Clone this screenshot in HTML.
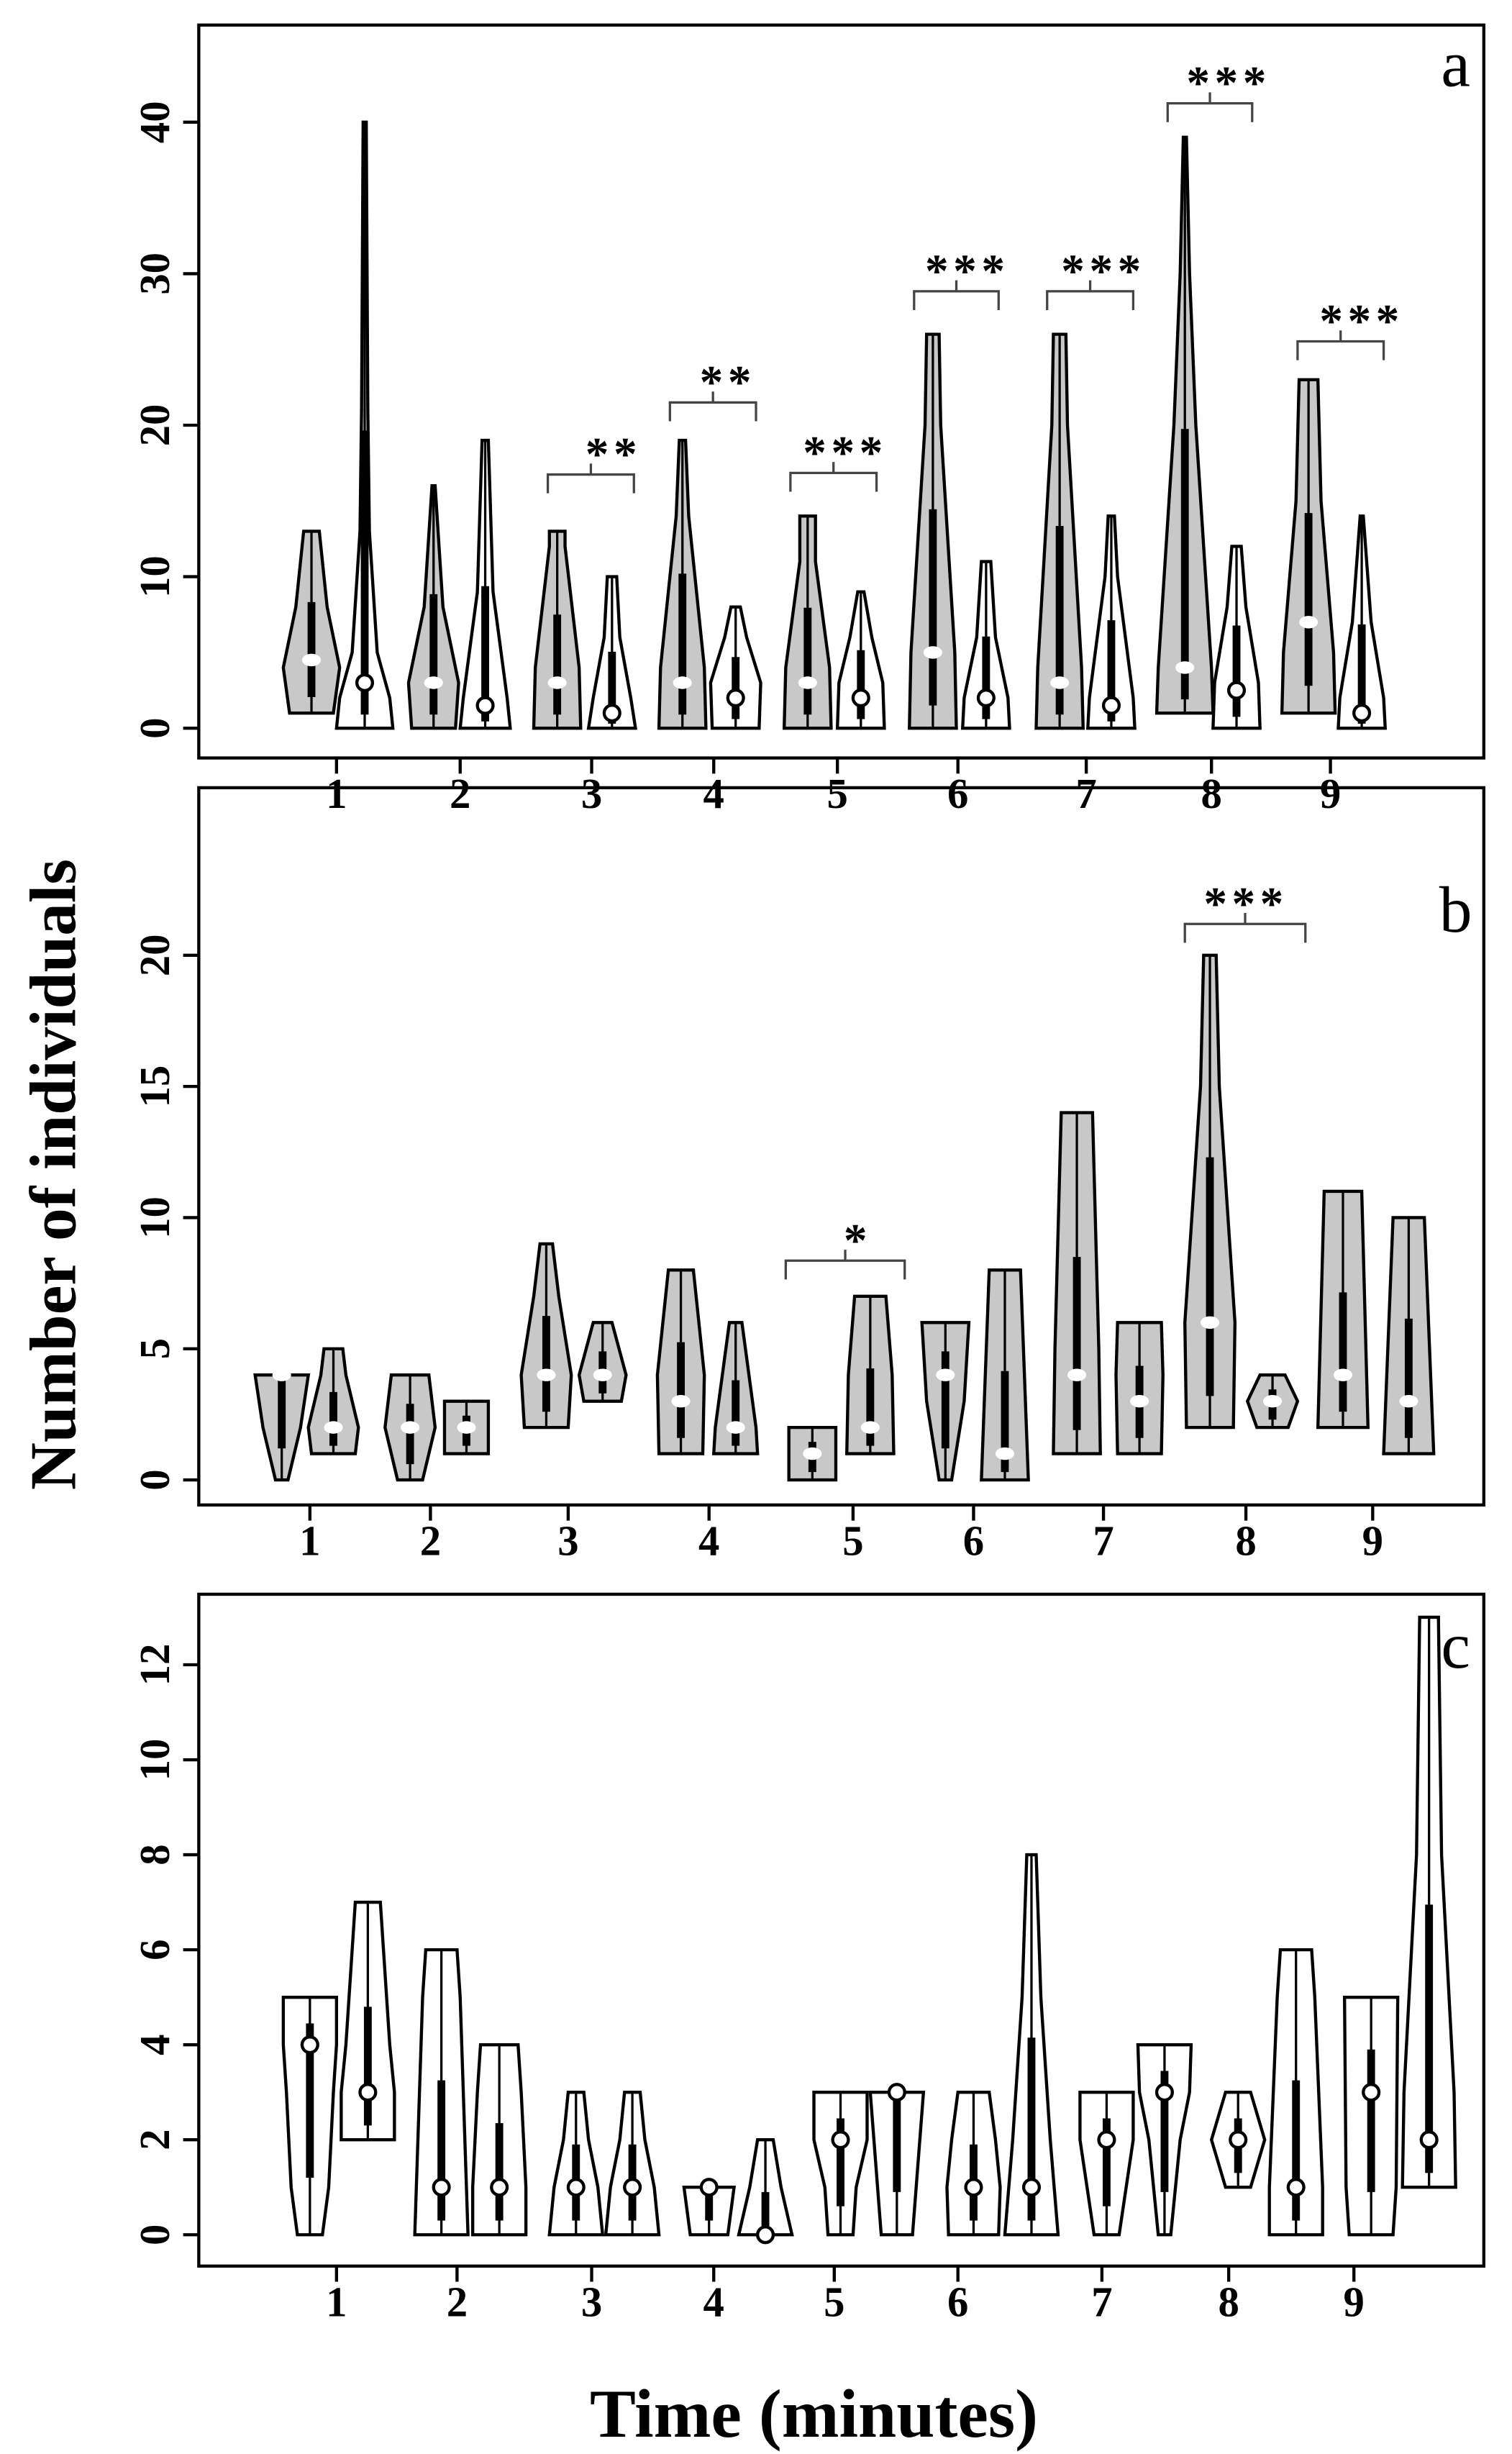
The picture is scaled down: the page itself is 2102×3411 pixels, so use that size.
<!DOCTYPE html>
<html><head><meta charset="utf-8"><style>
html,body{margin:0;padding:0;background:#fff;}
svg{display:block;}
text{font-family:"Liberation Serif",serif;font-weight:bold;fill:#000;}
</style></head><body>
<svg id="s" width="2102" height="3411" viewBox="0 0 966 1567" preserveAspectRatio="none" xmlns="http://www.w3.org/2000/svg"></svg>
<script>
const S=document.getElementById('s');let h='';
function panel(top,bot,y0,ppu,ticks,xt,letter,ly){
  h+=`<rect x="127" y="${top}" width="821" height="${bot-top}" fill="none" stroke="#000" stroke-width="2"/>`;
  ticks.forEach(v=>{const y=y0-ppu*v;h+=`<line x1="117" y1="${y}" x2="127" y2="${y}" stroke="#000" stroke-width="2"/><text transform="translate(108,${y}) rotate(-90)" text-anchor="middle" font-size="27">${v}</text>`;});
  xt.forEach((x,i)=>{h+=`<line x1="${x}" y1="${bot}" x2="${x}" y2="${bot+10}" stroke="#000" stroke-width="2"/><text x="${x}" y="${bot+32}" text-anchor="middle" font-size="27">${i+1}</text>`;});
  h+=`<text x="930" y="${ly}" text-anchor="middle" font-size="42" style="font-weight:normal">${letter}</text>`;
}
function vio(cx,prof,fill,med,y0,ppu,dotWhite){
  const Y=v=>y0-ppu*v;let r=[],l=[];
  prof.forEach(p=>{r.push(`${cx+p[1]},${Y(p[0])}`);});
  for(let i=prof.length-1;i>=0;i--)l.push(`${cx-prof[i][1]},${Y(prof[i][0])}`);
  h+=`<polygon points="${r.join(' ')} ${l.join(' ')}" fill="${fill}" stroke="#000" stroke-width="2"/>`;
  const mn=prof[0][0],mx=prof[prof.length-1][0];
  h+=`<line x1="${cx}" y1="${Y(mn)}" x2="${cx}" y2="${Y(mx)}" stroke="#000" stroke-width="1.5"/>`;
  const q3=med+(mx-med)*0.45,q1=mn+(med-mn)*0.3;
  h+=`<line x1="${cx}" y1="${Y(q1)}" x2="${cx}" y2="${Y(q3)}" stroke="#000" stroke-width="5"/>`;
  if(dotWhite)h+=`<ellipse cx="${cx}" cy="${Y(med)}" rx="6" ry="4" fill="#fff"/>`;
  else h+=`<ellipse cx="${cx}" cy="${Y(med)}" rx="5" ry="5" fill="#fff" stroke="#000" stroke-width="2"/>`;
}
function br(x1,x2,y,stars,sx){
  const m=(x1+x2)/2;
  h+=`<path d="M${x1},${y+12} L${x1},${y} L${x2},${y} L${x2},${y+12} M${m},${y} L${m},${y-7}" fill="none" stroke="#444" stroke-width="1.5"/>`;
  h+=`<text x="${sx||m}" y="${y-3}" text-anchor="middle" font-size="30" letter-spacing="3">${stars}</text>`;
}
const G='#c8c8c8',W='#fff';
// Panel a
let y0=465,p=9.675;
panel(16,484,y0,p,[0,10,20,30,40],[215,294,378,456,535,612,694,774,850],'a',55);
[[199,[[1,14],[4,18],[8,10],[13,5]],G,4.5,1],[233,[[0,18],[2,16],[5,8],[13,3],[21,2],[40,1]],W,3,0],
[277,[[0,14],[3,16],[8,6],[16,1]],G,3,1],[310,[[0,16],[2,14],[9,5],[19,2]],W,1.5,0],
[356,[[0,15],[4,14],[12,5],[13,5]],G,3,1],[391,[[0,15],[2,12],[6,5],[10,3]],W,1,0],
[436,[[0,15],[4,14],[14,4],[19,2]],G,3,1],[470,[[0,15],[3,16],[6,7],[8,3]],W,2,0],
[516,[[0,15],[4,14],[11,5],[14,5]],G,3,1],[550,[[0,15],[3,14],[6,7],[9,2]],W,2,0],
[596,[[0,15],[5,14],[20,5],[26,4]],G,5,1],[630,[[0,15],[2,14],[6,6],[11,3]],W,2,0],
[677,[[0,15],[4,14],[20,5],[26,4]],G,3,1],[710,[[0,15],[2,14],[10,4],[14,2]],W,1.5,0],
[757,[[1,18],[4,17],[20,7],[30,3],[39,1]],G,4,1],[790,[[0,15],[3,14],[8,6],[12,3]],W,2.5,0],
[836,[[1,17],[5,16],[15,8],[23,6]],G,7,1],[870,[[0,15],[2,14],[7,6],[14,1]],W,1,0]
].forEach(a=>vio(a[0],a[1],a[2],a[3],y0,p,a[4]));
br(350,405,303,'**',392);br(428,483,257,'**',465);br(505,560,302,'***',540);br(584,638,186,'***',618);
br(669,724,186,'***',705);br(746,800,66,'***',785);br(829,884,218,'***',870);
// Panel b
y0=945;p=16.75;
panel(503,961,y0,p,[0,5,10,15,20],[198,275,363,453,545,622,705,796,877],'b',595);
[[180,[[0,4],[2,12],[4,17]],4],[213,[[1,14],[2,16],[4,8],[5,6]],2],[262,[[0,8],[2,16],[4,12]],2],[298,[[1,14],[3,14]],2],
[349,[[2,14],[4,16],[7,8],[9,4]],4],[385,[[3,12],[4,15],[6,6]],4],[435,[[1,14],[4,15],[8,8]],3],[470,[[1,14],[2,13],[6,4]],2],
[519,[[0,15],[2,15]],1],[556,[[1,15],[4,14],[7,10]],2],[604,[[0,4],[3,12],[6,15]],4],[642,[[0,15],[8,10]],1],
[688,[[1,15],[5,14],[14,10]],4],[728,[[1,14],[4,15],[6,14]],3],[773,[[2,15],[6,16],[15,6],[20,4]],6],[813,[[2,10],[3,16],[4,8]],3],
[858,[[2,16],[11,12]],4],[900,[[1,16],[4,14],[10,10]],3]
].forEach(a=>vio(a[0],a[1],G,a[2],y0,p,1));
br(757,834,590,'***',796);br(502,578,805,'*',548);
// Panel c
y0=1427;p=30.33;
panel(1018,1447,y0,p,[0,2,4,6,8,10,12],[215,292,378,456,533,612,704,785,865],'c',1065);
[[198,[[0,8],[1,12],[3,15],[4,17],[5,17]],4],[235,[[2,17],[3,17],[4,14],[6,10],[7,8]],3],
[282,[[0,17],[1,16],[5,12],[6,10]],1],[319,[[0,17],[1,17],[3,14],[4,12]],1],
[368,[[0,17],[1,14],[2,8],[3,5]],1],[404,[[0,17],[1,14],[2,8],[3,5]],1],
[453,[[0,12],[1,16]],1],[489,[[0,17],[1,10],[2,5]],0],
[537,[[0,8],[1,10],[2,17],[3,17]],2],[573,[[0,10],[3,17]],3],
[622,[[0,16],[1,17],[2,14],[3,10]],1],[659,[[0,17],[2,12],[5,6],[8,3]],1],
[707,[[0,8],[2,17],[3,17]],2],[744,[[0,4],[2,10],[3,16],[4,17]],3],
[791,[[1,8],[2,17],[3,8]],2],[828,[[0,17],[1,17],[5,12],[6,10]],1],
[876,[[0,14],[1,16],[5,17]],3],[913,[[1,17],[3,16],[8,8],[13,6]],2]
].forEach(a=>vio(a[0],a[1],W,a[2],y0,p,0));
h+=`<text x="520" y="1556" text-anchor="middle" font-size="44">Time (minutes)</text>`;
h+=`<text transform="translate(48,750) rotate(-90)" text-anchor="middle" font-size="42">Number of individuals</text>`;
S.innerHTML=h;
</script>
</body></html>
